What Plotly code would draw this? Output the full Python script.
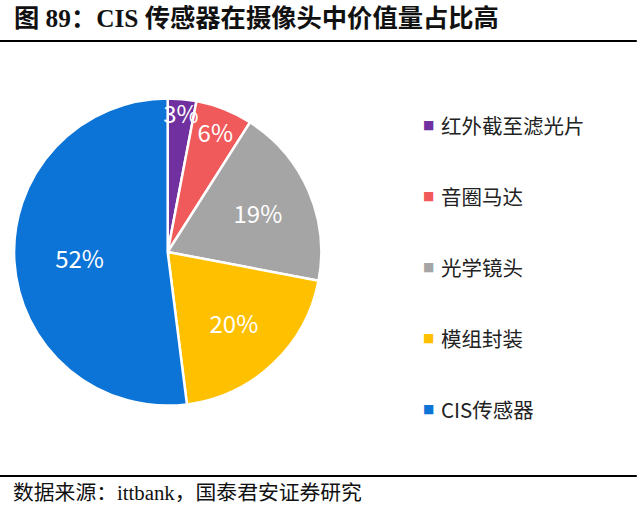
import plotly.graph_objects as go

TITLE = "图 89：CIS 传感器在摄像头中价值量占比高"
SOURCE = "数据来源：ittbank，国泰君安证券研究"

labels = ["红外截至滤光片", "音圈马达", "光学镜头", "模组封装", "CIS传感器"]
values = [3, 6, 19, 20, 52]
colors = ["#7030A0", "#F05A5A", "#A5A5A5", "#FFC000", "#0B74D6"]

CJK = "Noto Sans CJK SC"
SERIF = "Liberation Serif, " + CJK
PIE_DOMAIN = dict(x=[0.022, 0.502], y=[0.2055, 0.8082])

fig = go.Figure()

# the coloured pie itself
fig.add_trace(go.Pie(
    labels=labels,
    values=values,
    sort=False,
    direction="clockwise",
    rotation=0,
    marker=dict(colors=colors, line=dict(color="white", width=2.5)),
    textinfo="none",
    domain=PIE_DOMAIN,
    showlegend=False,
    hoverinfo="label+percent",
))

# transparent ring on top, only to push the percent labels outwards
fig.add_trace(go.Pie(
    labels=labels,
    values=values,
    sort=False,
    direction="clockwise",
    rotation=0,
    hole=0.15,
    marker=dict(colors=["rgba(0,0,0,0)"] * len(values), line=dict(width=0)),
    texttemplate="%{value}%",
    textposition="inside",
    insidetextorientation="horizontal",
    textfont=dict(family=CJK, size=24, color="white"),
    domain=PIE_DOMAIN,
    showlegend=False,
    hoverinfo="skip",
))

# legend drawn by hand so the spacing matches the original
legend_top = 1 - 125 / 511
legend_step = 71 / 511
for i, (lab, col) in enumerate(zip(labels, colors)):
    y = legend_top - i * legend_step
    fig.add_annotation(
        x=0.67, y=y, xref="paper", yref="paper",
        text="■", showarrow=False, xanchor="center", yanchor="middle",
        font=dict(family="DejaVu Sans", size=12, color=col),
    )
    fig.add_annotation(
        x=0.686, y=y, xref="paper", yref="paper",
        text=lab, showarrow=False, xanchor="left", yanchor="middle",
        font=dict(family=CJK, size=20.5, color="#222222"),
    )

# title + rules
fig.add_annotation(
    x=0.018, y=1 - 18 / 511, xref="paper", yref="paper",
    text=f"<b>{TITLE}</b>", showarrow=False, xanchor="left", yanchor="middle",
    font=dict(family=SERIF, size=25.3, color="#111111"),
)
fig.add_shape(type="line", xref="paper", yref="paper",
              x0=0, x1=0.995, y0=1 - 41 / 511, y1=1 - 41 / 511,
              line=dict(color="black", width=2))
fig.add_shape(type="line", xref="paper", yref="paper",
              x0=0, x1=0.995, y0=1 - 476 / 511, y1=1 - 476 / 511,
              line=dict(color="black", width=2))
fig.add_annotation(
    x=0.017, y=1 - 492 / 511, xref="paper", yref="paper",
    text=SOURCE, showarrow=False, xanchor="left", yanchor="middle",
    font=dict(family=SERIF, size=20.8, color="#111111"),
)

fig.update_layout(
    width=640,
    height=511,
    margin=dict(l=0, r=0, t=0, b=0),
    paper_bgcolor="white",
    plot_bgcolor="white",
    uniformtext=dict(minsize=24, mode="show"),
)

# drop the default page margin so the figure sits at the window corner
fig.write_html("out.html", config={"displayModeBar": False},
               post_script="document.body.style.margin='0';")
